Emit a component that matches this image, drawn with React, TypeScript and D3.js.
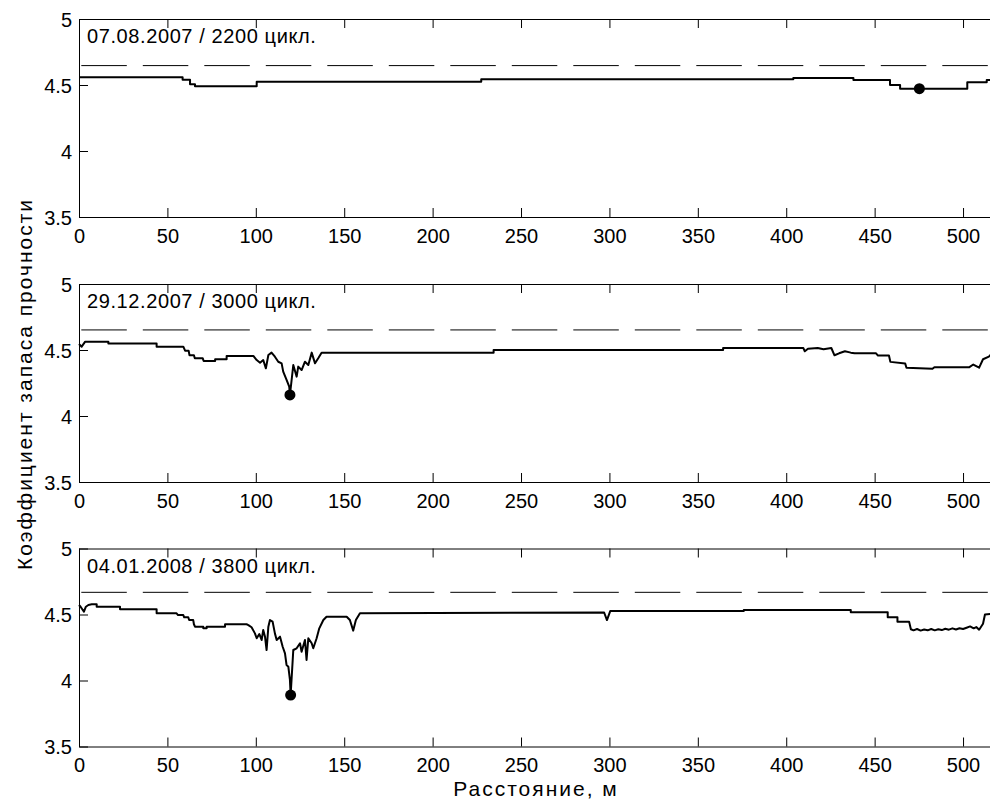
import * as d3 from 'd3';
import { useEffect, useRef } from 'react';

type Pt = [number, number];

const titles = ['07.08.2007 / 2200 цикл.', '29.12.2007 / 3000 цикл.', '04.01.2008 / 3800 цикл.'];
const refLevels = [4.647, 4.652, 4.668];
const minPoints: Pt[] = [
  [475.3, 4.472],
  [119.3, 4.16],
  [119.7, 3.89],
];
const xTicks = [0, 50, 100, 150, 200, 250, 300, 350, 400, 450, 500];
const yTicks = [3.5, 4, 4.5, 5];
const xLabel = 'Расстояние, м';
const yLabel = 'Коэффициент запаса прочности';

// 07.08.2007
const profile1: Pt[] = [
  [0, 4.558], [58.6, 4.558], [58.6, 4.54], [62.8, 4.54], [62.8, 4.505], [65.6, 4.505],
  [65.6, 4.49], [100.5, 4.49], [100.5, 4.525], [227.5, 4.525], [227.5, 4.543], [404, 4.543],
  [404, 4.553], [438, 4.553], [438, 4.538], [458.7, 4.538], [458.7, 4.5], [464.4, 4.5],
  [464.4, 4.472], [502.4, 4.472], [502.4, 4.52], [513.4, 4.52], [513.4, 4.538], [516, 4.538],
];

// 29.12.2007
const profile2: Pt[] = [
  [0, 4.545], [1.5, 4.525], [3.5, 4.563], [16.6, 4.563], [16.6, 4.55], [43.9, 4.55],
  [43.9, 4.525], [59, 4.525], [60, 4.495], [62, 4.495], [62.5, 4.46], [65, 4.46],
  [65.5, 4.437], [70, 4.437], [70.5, 4.417], [77, 4.417], [77, 4.43], [83.5, 4.43],
  [83.5, 4.455], [98.6, 4.455], [100.5, 4.424], [102.4, 4.404], [104.2, 4.424], [105.7, 4.361],
  [107.1, 4.462], [108.9, 4.48], [110.8, 4.449], [112.7, 4.411], [114.6, 4.399], [115.5, 4.336],
  [117.4, 4.273], [118.9, 4.222], [119.3, 4.159], [121.2, 4.386], [123.1, 4.298], [124, 4.374],
  [125.9, 4.348], [127.8, 4.411], [129.7, 4.386], [131.6, 4.48], [133.5, 4.399], [135.3, 4.437],
  [137.2, 4.48], [234.5, 4.48], [234.5, 4.5], [364.3, 4.5], [364.3, 4.515], [409.7, 4.515],
  [410.5, 4.49], [412.3, 4.51], [417.8, 4.515], [421.1, 4.505], [425.5, 4.515], [427.3, 4.46],
  [429.9, 4.475], [433.2, 4.49], [436.5, 4.48], [438.7, 4.475], [450.8, 4.475], [451.9, 4.458],
  [458.1, 4.458], [458.9, 4.41], [467.3, 4.397], [468, 4.366], [482.7, 4.358], [483.8, 4.37],
  [503.6, 4.37], [505.8, 4.39], [509.1, 4.366], [511.3, 4.43], [514.6, 4.45], [516, 4.47],
];

// 04.01.2008
const profile3: Pt[] = [
  [0, 4.572], [0.9, 4.559], [2.8, 4.521], [3.9, 4.559], [5.3, 4.572], [7.2, 4.577],
  [10, 4.577], [10, 4.559], [23.2, 4.559], [23.2, 4.539], [43.9, 4.539], [43.9, 4.509],
  [55.2, 4.509], [56, 4.496], [59, 4.496], [59.5, 4.479], [61.8, 4.479], [62.3, 4.458],
  [64.6, 4.458], [65, 4.426], [65.6, 4.408], [70.3, 4.408], [70.3, 4.395], [72.2, 4.395],
  [72.2, 4.408], [82.6, 4.408], [82.6, 4.426], [94.8, 4.426], [95.8, 4.42], [97.6, 4.403],
  [99.5, 4.357], [100.5, 4.32], [102, 4.352], [103.3, 4.307], [104.2, 4.383], [105.2, 4.332],
  [106.1, 4.231], [107.1, 4.408], [108, 4.458], [109.5, 4.446], [110.8, 4.357], [111.8, 4.307],
  [113.7, 4.332], [115.2, 4.256], [116.5, 4.206], [117.4, 4.117], [118.4, 4.105], [119.3, 4.004],
  [119.7, 3.89], [121.2, 4.231], [123.1, 4.244], [125, 4.282], [125.9, 4.218], [127.8, 4.307],
  [128.7, 4.155], [129.7, 4.32], [131.6, 4.282], [132.5, 4.244], [134.4, 4.32], [135.9, 4.395],
  [138.2, 4.458], [140, 4.483], [151.4, 4.483], [153.2, 4.458], [155.1, 4.378], [156.6, 4.458],
  [158.9, 4.51], [297, 4.515], [298.6, 4.458], [300.5, 4.527], [376, 4.527], [376, 4.534],
  [436.5, 4.534], [436.5, 4.517], [457.4, 4.517], [457.4, 4.479], [462.9, 4.479], [462.9, 4.446],
  [469.5, 4.446], [470.5, 4.388], [472, 4.38], [474, 4.39], [476, 4.378], [478, 4.386],
  [480, 4.38], [482, 4.39], [484, 4.38], [486, 4.388], [488, 4.382], [490, 4.392],
  [492, 4.385], [494, 4.395], [496, 4.386], [498, 4.396], [500, 4.39], [502, 4.4],
  [504, 4.41], [506, 4.395], [507.5, 4.405], [509.1, 4.385], [511.3, 4.43], [512.4, 4.5],
  [516, 4.505],
];

const profiles = [profile1, profile2, profile3];

const width = 990;
const height = 802;
const panelTops = [19, 284, 548.5];
const panelHeight = 198;
const font = "'Liberation Sans', Arial, Helvetica, sans-serif";

function App() {
  const svgRef = useRef<SVGSVGElement | null>(null);

  useEffect(() => {
    if (!svgRef.current) {
      return;
    }
    const svg = d3.select(svgRef.current);
    svg.selectAll('*').remove();

    const x = d3.scaleLinear().domain([0, 520]).range([79, 998.4]);

    profiles.forEach((rows, i) => {
      const top = panelTops[i];
      const bottom = top + panelHeight;
      const y = d3.scaleLinear().domain([3.5, 5]).range([bottom, top]);
      const panel = svg.append('g');

      // bottom axis with labels, ticks inside
      panel
        .append('g')
        .attr('transform', `translate(0,${bottom})`)
        .call(
          d3
            .axisBottom(x)
            .tickValues(xTicks)
            .tickSizeInner(-9)
            .tickSizeOuter(0)
            .tickPadding(11.5)
            .tickFormat((d) => String(d)),
        )
        .call((g) => g.attr('font-family', font).attr('font-size', 20));

      // top axis, ticks only
      panel
        .append('g')
        .attr('transform', `translate(0,${top})`)
        .call(d3.axisTop(x).tickValues(xTicks).tickSizeInner(-9).tickSizeOuter(0).tickFormat(() => ''));

      // left axis
      panel
        .append('g')
        .attr('transform', 'translate(79,0)')
        .call(
          d3
            .axisLeft(y)
            .tickValues(yTicks)
            .tickSizeInner(-9)
            .tickSizeOuter(0)
            .tickPadding(7)
            .tickFormat((d) => String(d)),
        )
        .call((g) => {
          g.attr('font-family', font).attr('font-size', 20);
          g.selectAll('text').attr('dy', '0.36em');
        });

      // reference (dashed) level
      panel
        .append('line')
        .attr('x1', x(0))
        .attr('x2', x(520))
        .attr('y1', y(refLevels[i]))
        .attr('y2', y(refLevels[i]))
        .attr('stroke', '#000')
        .attr('stroke-width', 1)
        .attr('stroke-dasharray', '45.5 16')
        .attr('stroke-dashoffset', 59.2);

      const line = d3
        .line<Pt>()
        .x((d) => x(d[0]))
        .y((d) => y(d[1]));

      panel
        .append('path')
        .datum(rows)
        .attr('fill', 'none')
        .attr('stroke', '#000')
        .attr('stroke-width', 2)
        .attr('stroke-linejoin', 'round')
        .attr('d', line);

      panel
        .append('circle')
        .attr('cx', x(minPoints[i][0]))
        .attr('cy', y(minPoints[i][1]))
        .attr('r', 5.5)
        .attr('fill', '#000');

      panel
        .append('text')
        .attr('x', 87)
        .attr('y', top + 24)
        .attr('font-family', font)
        .attr('font-size', 20)
        .attr('letter-spacing', 0.6)
        .attr('fill', '#000')
        .text(titles[i]);
    });

    svg
      .append('text')
      .attr('x', 536)
      .attr('y', 796)
      .attr('text-anchor', 'middle')
      .attr('font-family', font)
      .attr('font-size', 21)
      .attr('letter-spacing', 2)
      .attr('fill', '#000')
      .text(xLabel);

    svg
      .append('text')
      .attr('transform', 'translate(32,384) rotate(-90)')
      .attr('text-anchor', 'middle')
      .attr('font-family', font)
      .attr('font-size', 21)
      .attr('letter-spacing', 2)
      .attr('fill', '#000')
      .text(yLabel);
  }, []);

  return (
    <svg
      ref={svgRef}
      width={width}
      height={height}
      style={{ position: 'absolute', left: 0, top: 0, background: '#fff' }}
    />
  );
}

export default App;
